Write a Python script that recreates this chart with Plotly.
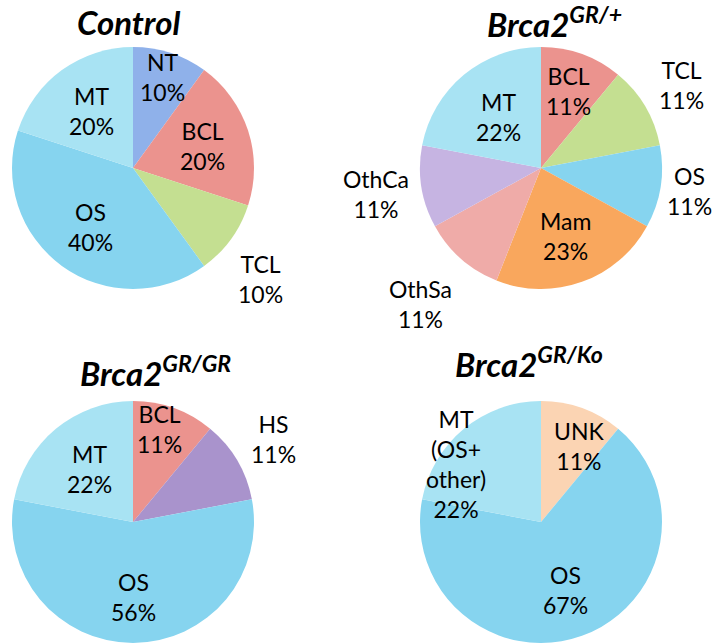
import math
import plotly.graph_objects as go

# ---- data ----
control_labels = ["NT", "BCL", "TCL", "OS", "MT"]
control_values = [10, 20, 10, 40, 20]

het_labels = ["BCL", "TCL", "OS", "Mam", "OthSa", "OthCa", "MT"]
het_values = [11, 11, 11, 23, 11, 11, 22]

hom_labels = ["BCL", "HS", "OS", "MT"]
hom_values = [11, 11, 56, 22]

ko_labels = ["UNK", "OS", "MT<br>(OS+<br>other)"]
ko_values = [11, 67, 22]

titles = ["Control", "Brca2<sup>GR/+</sup>", "Brca2<sup>GR/GR</sup>", "Brca2<sup>GR/Ko</sup>"]

# ---- styles ----
colors = {
    "NT": "#8fb1ea", "BCL": "#eb938e", "TCL": "#c4df91", "OS": "#86d4ef",
    "MT": "#a8e3f3", "Mam": "#f9a75d", "OthSa": "#efaba8", "OthCa": "#c6b4e2",
    "HS": "#a993cc", "UNK": "#fbd4b3",
}
# label radial distance (fraction of radius) and angular nudge (deg) per slice
control_lab = [(0.79, 0), (0.6, 0), (1.4, 5), (0.6, 0), (0.58, 0)]
het_lab = [(0.68, 0), (1.35, 0), (1.24, 0), (0.6, 0), (1.5, 0), (1.38, 0), (0.55, 0)]
hom_lab = [(0.8, -4), (1.35, 0), (0.62, 0), (0.57, 0)]
ko_lab = [(0.7, 7), (0.6, 0), (0.85, -16)]

W, H = 714, 644
R = 121
FONT = "Lato"
centers = [(133, 168), (541, 168), (133, 522), (541, 522)]   # page pixels


def px(sx, sy):
    return sx / W, 1 - sy / H


def dom(cx, cy, r):
    x0, y1 = px(cx - r, cy - r)
    x1, y0 = px(cx + r, cy + r)
    return dict(x=[x0, x1], y=[y0, y1])


fig = go.Figure()
charts = [
    (control_labels, control_values, control_lab),
    (het_labels, het_values, het_lab),
    (hom_labels, hom_values, hom_lab),
    (ko_labels, ko_values, ko_lab),
]
for (labels, values, lab), (cx, cy) in zip(charts, centers):
    keys = [l.split("<br>")[0] for l in labels]
    fig.add_trace(go.Pie(
        labels=labels, values=values, sort=False, direction="clockwise", rotation=0,
        marker=dict(colors=[colors[k] for k in keys], line=dict(width=0)),
        textinfo="none", domain=dom(cx, cy, R), showlegend=False,
        hoverinfo="label+percent",
    ))
    total = sum(values)
    cum = 0
    for l, v, (rf, dth) in zip(labels, values, lab):
        mid = (cum + v / 2) / total * 360 + dth
        cum += v
        x, y = px(cx + rf * R * math.sin(math.radians(mid)),
                  cy - rf * R * math.cos(math.radians(mid)))
        fig.add_annotation(text=f"{l}<br>{v}%", x=x, y=y,
                           xref="paper", yref="paper", showarrow=False,
                           xanchor="center", yanchor="middle", align="center",
                           font=dict(family=FONT, size=23, color="black"))

title_pos = [(128, 22), (554, 22), (155, 371), (529, 362)]
for t, (sx, sy) in zip(titles, title_pos):
    x, y = px(sx, sy)
    fig.add_annotation(text=t, x=x, y=y, xref="paper", yref="paper",
                       showarrow=False, xanchor="center", yanchor="middle",
                       font=dict(family=FONT, size=33, color="black", weight="bold", style="italic"))

fig.update_layout(
    width=W, height=H, margin=dict(l=0, r=0, t=0, b=0),
    paper_bgcolor="white", plot_bgcolor="white",
)
fig.write_html("out.html", post_script="document.body.style.margin='0';",
               config={"displayModeBar": False})
